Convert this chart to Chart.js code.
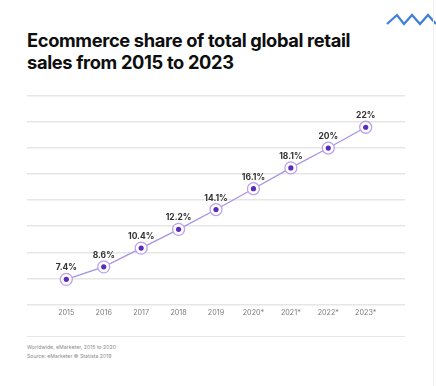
<!DOCTYPE html>
<html>
<head>
<meta charset="utf-8">
<script src="https://cdn.jsdelivr.net/npm/chart.js@4"></script>
<style>
  html, body { margin: 0; padding: 0; background: #fff; }
  body { width: 436px; height: 386px; position: relative; overflow: hidden; font-family: "Inter", "Open Sans", sans-serif; }
  #title { position: absolute; left: 27px; top: 29px; font-size: 18.3px; font-weight: 700; line-height: 22px; color: #0e0e0e; letter-spacing: -0.35px; }
  #wrap { position: absolute; left: 0; top: 86px; width: 436px; height: 240px; }
  #rule { position: absolute; left: 27px; top: 336px; width: 378px; height: 0; border-top: 1.5px solid #e6e6e6; }
  #notes { position: absolute; left: 27px; top: 343px; font-size: 5.2px; line-height: 8.5px; color: #8a8a8a; }
  #vline { position: absolute; left: 433px; top: 0; width: 1px; height: 386px; background: #eeeeee; }
  #zig { position: absolute; left: 380px; top: 8px; }
</style>
</head>
<body>
<div id="title">Ecommerce share of total global retail<br>sales from 2015 to 2023</div>
<svg id="zig" width="56" height="22"><polyline points="7,16 17,7 24,16 32,7 40,16 48,7 56,16" fill="none" stroke="#3d7fdc" stroke-width="2.2" stroke-linejoin="miter"/></svg>
<div id="vline"></div>
<div id="wrap"><canvas id="c"></canvas></div>
<div id="rule"></div>
<div id="notes">Worldwide, eMarketer, 2015 to 2020<br>Source: eMarketer © Statista 2019</div>
<script>
const years = [2015, 2016, 2017, 2018, 2019, 2020, 2021, 2022, 2023];
const yearLabels = ['2015', '2016', '2017', '2018', '2019', '2020*', '2021*', '2022*', '2023*'];
const shareValues = [7.4, 8.6, 10.4, 12.2, 14.1, 16.1, 18.1, 20, 22];
const valueLabels = ['7.4%', '8.6%', '10.4%', '12.2%', '14.1%', '16.1%', '18.1%', '20%', '22%'];

const points = years.map((y, i) => ({ x: y, y: shareValues[i] }));

const labelPlugin = {
  id: 'valueLabels',
  afterDatasetsDraw(chart) {
    const ctx = chart.ctx;
    const meta = chart.getDatasetMeta(0);
    ctx.save();
    ctx.font = '700 8.5px Inter, "Open Sans", sans-serif';
    ctx.fillStyle = '#333';
    ctx.textAlign = 'center';
    ctx.textBaseline = 'alphabetic';
    meta.data.forEach((pt, i) => {
      ctx.fillText(valueLabels[i], pt.x, pt.y - 9);
    });
    ctx.restore();
  }
};

new Chart(document.getElementById('c'), {
  type: 'line',
  data: {
    datasets: [
      {
        data: points,
        order: 2,
        borderColor: '#a990e4',
        borderWidth: 1.2,
        pointRadius: 6,
        pointBackgroundColor: '#ffffff',
        pointBorderColor: '#b9a2ee',
        pointBorderWidth: 1.3,
        tension: 0
      },
      {
        data: points,
        order: 1,
        showLine: false,
        pointRadius: 2.6,
        pointBackgroundColor: '#5a2db8',
        pointBorderColor: '#5a2db8',
        pointBorderWidth: 0
      }
    ]
  },
  options: {
    responsive: true,
    maintainAspectRatio: false,
    animation: false,
    layout: { padding: { left: 27, right: 31, top: 10, bottom: 5 } },
    plugins: { legend: { display: false }, tooltip: { enabled: false } },
    scales: {
      x: {
        type: 'linear',
        min: 2013.95,
        max: 2024.05,
        grid: { display: false, drawTicks: false, tickLength: 0 },
        border: { display: false },
        ticks: {
          stepSize: 1,
          autoSkip: false,
          maxRotation: 0,
          padding: 4,
          color: '#7a7a7a',
          font: { size: 7.2, family: 'Inter, "Open Sans", sans-serif' },
          callback: (v) => {
            const i = years.indexOf(v);
            return i >= 0 ? yearLabels[i] : '';
          }
        }
      },
      y: {
        min: 5,
        max: 25,
        ticks: { display: false, stepSize: 2.5 },
        border: { display: false },
        grid: { color: '#e6e6e6', lineWidth: 1.5, drawTicks: false }
      }
    }
  },
  plugins: [labelPlugin]
});
</script>
</body>
</html>
